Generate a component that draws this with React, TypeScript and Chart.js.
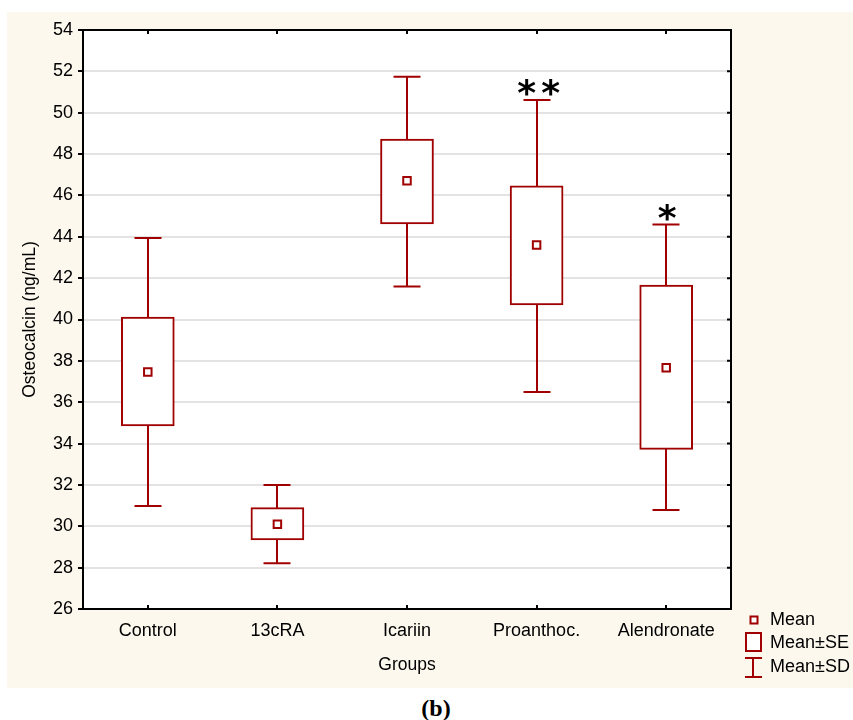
import React, { useEffect, useRef } from "react";
import { Chart, registerables } from "chart.js";

Chart.register(...registerables);

// ---- data ----
const groups = ["Control", "13cRA", "Icariin", "Proanthoc.", "Alendronate"];
const means = [37.46, 30.1, 46.71, 43.6, 37.67];
const seLow = [34.85, 29.34, 44.62, 40.7, 33.72];
const seHigh = [40.12, 30.9, 48.73, 46.46, 41.67];
const sdLow = [30.98, 28.21, 41.59, 36.5, 30.79];
const sdHigh = [43.94, 32.0, 51.74, 50.62, 44.6];
const significance = ["", "", "", "**", "*"];
const yMin = 26;
const yMax = 54;
const yStep = 2;
const legendLabels = ["Mean", "Mean±SE", "Mean±SD"];
const yAxisTitle = "Osteocalcin (ng/mL)";
const xAxisTitle = "Groups";
const panelLabel = "(b)";

const RED = "#a00000";
const FONT = "'Liberation Sans', Arial, sans-serif";

const areaPlugin = {
  id: "area",
  beforeDraw(chart: any) {
    const { ctx, chartArea: a } = chart;
    ctx.save();
    ctx.fillStyle = "#fff";
    ctx.fillRect(a.left, a.top, a.right - a.left, a.bottom - a.top);
    ctx.restore();
  },
};

const whiskerPlugin = {
  id: "whiskers",
  beforeDatasetsDraw(chart: any) {
    const { ctx, scales } = chart;
    const xs = scales.x;
    const ys = scales.y;
    ctx.save();
    ctx.strokeStyle = RED;
    ctx.lineWidth = 2;
    groups.forEach((_, i) => {
      const x = Math.round(xs.getPixelForValue(i));
      const yl = ys.getPixelForValue(sdLow[i]);
      const yh = ys.getPixelForValue(sdHigh[i]);
      ctx.beginPath();
      ctx.moveTo(x, yl);
      ctx.lineTo(x, yh);
      ctx.moveTo(x - 13.5, yl);
      ctx.lineTo(x + 13.5, yl);
      ctx.moveTo(x - 13.5, yh);
      ctx.lineTo(x + 13.5, yh);
      ctx.stroke();
    });
    ctx.restore();
  },
};

const framePlugin = {
  id: "frame",
  afterDraw(chart: any) {
    const { ctx, chartArea: a, scales } = chart;
    const xs = scales.x;
    const ys = scales.y;
    ctx.save();
    ctx.strokeStyle = "#000";
    ctx.lineWidth = 2;
    ctx.strokeRect(a.left, a.top, a.right - a.left, a.bottom - a.top);
    ctx.beginPath();
    groups.forEach((_, i) => {
      const x = Math.round(xs.getPixelForValue(i));
      ctx.moveTo(x, a.top);
      ctx.lineTo(x, a.top + 4);
      ctx.moveTo(x, a.bottom);
      ctx.lineTo(x, a.bottom - 4);
    });
    for (let v = yMin; v <= yMax; v += yStep) {
      const y = ys.getPixelForValue(v);
      ctx.moveTo(a.right, y);
      ctx.lineTo(a.right - 4, y);
    }
    ctx.stroke();

    // significance marks
    ctx.fillStyle = "#000";
    ctx.font = `bold 40px 'DejaVu Sans', sans-serif`;
    const m = ctx.measureText("*");
    const inkH = m.actualBoundingBoxAscent + m.actualBoundingBoxDescent;
    const size = (40 * 18) / inkH;
    ctx.font = `bold ${size}px 'DejaVu Sans', sans-serif`;
    const m2 = ctx.measureText("*");
    ctx.textAlign = "center";
    ctx.textBaseline = "alphabetic";
    significance.forEach((s, i) => {
      if (!s) return;
      const x = xs.getPixelForValue(i);
      const cy = ys.getPixelForValue(sdHigh[i]) - 12;
      const by = cy + (m2.actualBoundingBoxAscent - m2.actualBoundingBoxDescent) / 2;
      if (s.length === 2) {
        ctx.fillText("*", x - 10, by);
        ctx.fillText("*", x + 14, by);
      } else {
        ctx.fillText("*", x + 1, by);
      }
    });

    // legend
    ctx.strokeStyle = RED;
    ctx.lineWidth = 2;
    ctx.fillStyle = "#fff";
    ctx.beginPath();
    ctx.rect(743.5, 604.5, 7, 7);
    ctx.fill();
    ctx.stroke();
    ctx.beginPath();
    ctx.rect(739, 621, 15, 18);
    ctx.fill();
    ctx.stroke();
    ctx.beginPath();
    ctx.moveTo(746, 646);
    ctx.lineTo(746, 665);
    ctx.moveTo(738, 646);
    ctx.lineTo(755, 646);
    ctx.moveTo(738, 665);
    ctx.lineTo(755, 665);
    ctx.stroke();
    ctx.fillStyle = "#000";
    ctx.font = `18px ${FONT}`;
    ctx.textAlign = "left";
    ctx.textBaseline = "middle";
    ctx.fillText(legendLabels[0], 763, 608);
    ctx.fillText(legendLabels[1], 763, 631);
    ctx.fillText(legendLabels[2], 763, 655);
    ctx.restore();
  },
};

export default function App() {
  const ref = useRef<HTMLCanvasElement | null>(null);

  useEffect(() => {
    if (!ref.current) return;
    const chart = new Chart(ref.current, {
      data: {
        labels: groups,
        datasets: [
          {
            type: "line",
            label: "Mean",
            data: means,
            showLine: false,
            pointStyle: "rect",
            pointRadius: 5.3,
            pointBackgroundColor: "#fff",
            pointBorderColor: RED,
            pointBorderWidth: 2,
            order: 0,
          },
          {
            type: "bar",
            label: "Mean±SE",
            data: groups.map((_, i) => [seLow[i], seHigh[i]]),
            backgroundColor: "#fff",
            borderColor: RED,
            borderWidth: 2,
            borderSkipped: false,
            barThickness: 53,
            order: 1,
          },
        ] as any,
      },
      options: {
        animation: false,
        responsive: false,
        events: [],
        layout: { padding: { top: 18, right: 122, left: 0, bottom: 0 } },
        plugins: {
          legend: { display: false },
          tooltip: { enabled: false },
        },
        scales: {
          x: {
            type: "category",
            offset: true,
            grid: { display: false, drawTicks: false },
            border: { display: false },
            ticks: { color: "#000", font: { size: 18, family: FONT }, padding: 11 },
            title: {
              display: true,
              text: xAxisTitle,
              color: "#000",
              font: { size: 17.5, family: FONT },
              padding: { top: 0, bottom: 12 },
            },
            afterFit(scale: any) {
              scale.height = 79;
            },
          },
          y: {
            min: yMin,
            max: yMax,
            ticks: {
              stepSize: yStep,
              color: "#000",
              font: { size: 18, family: FONT },
              padding: 5,
            },
            grid: {
              color: "#e3e3e3",
              lineWidth: 2,
              drawTicks: true,
              tickLength: 5,
              tickColor: "#000",
              tickWidth: 2,
            },
            border: { display: false },
            title: {
              display: true,
              text: yAxisTitle,
              color: "#000",
              font: { size: 17.5, family: FONT },
              padding: { top: 13, bottom: 0 },
            },
            afterFit(scale: any) {
              scale.width = 76;
            },
          },
        },
      } as any,
      plugins: [areaPlugin, whiskerPlugin, framePlugin],
    });
    return () => chart.destroy();
  }, []);

  return (
    <div style={{ position: "absolute", left: 0, top: 0, width: 853, height: 720, background: "#fff" }}>
      <div
        style={{
          position: "absolute",
          left: 7,
          top: 12,
          width: 846,
          height: 676,
          background: "#fcf8ee",
        }}
      >
        <canvas ref={ref} width={846} height={676} style={{ display: "block" }} />
      </div>
      <div
        style={{
          position: "absolute",
          left: 0,
          width: 872,
          top: 695,
          textAlign: "center",
          fontFamily: "'Liberation Serif', 'Times New Roman', serif",
          fontWeight: "bold",
          fontSize: 24,
          lineHeight: "26px",
          color: "#000",
        }}
      >
        {panelLabel}
      </div>
    </div>
  );
}
